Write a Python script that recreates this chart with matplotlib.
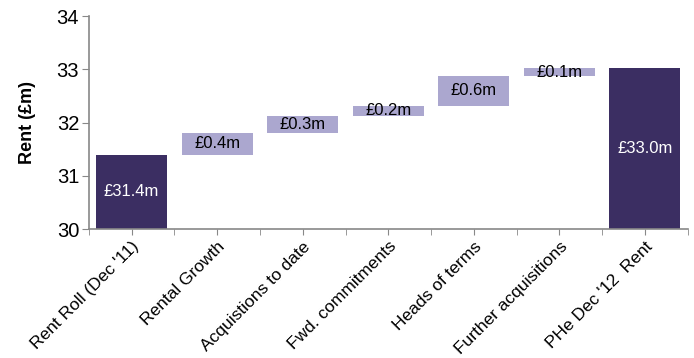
import matplotlib.pyplot as plt
import numpy as np

plt.rcParams['font.family'] = ['Liberation Sans', 'DejaVu Sans']

# data
categories = ["Rent Roll (Dec '11)", "Rental Growth", "Acquistions to date",
              "Fwd. commitments", "Heads of terms", "Further acquisitions",
              "PHe Dec '12  Rent"]
start_rent = 31.4
steps = [0.4, 0.33, 0.18, 0.57, 0.14]
end_rent = 33.03
labels = ["£31.4m", "£0.4m", "£0.3m", "£0.2m", "£0.6m", "£0.1m", "£33.0m"]

dark = '#3b2e62'
light = '#aba7cf'
base = 30

fig = plt.figure(figsize=(6.94, 3.58), dpi=100)
ax = fig.add_axes([0.128, 0.36, 0.863, 0.595])

x = np.arange(len(categories))
w = 0.83

# totals
ax.bar(x[0], start_rent - base, bottom=base, width=w, color=dark)
ax.bar(x[-1], end_rent - base, bottom=base, width=w, color=dark)
ax.text(x[0], (start_rent + base) / 2, labels[0], ha='center', va='center', color='white', fontsize=12)
ax.text(x[-1], (end_rent + base) / 2, labels[-1], ha='center', va='center', color='white', fontsize=12)

# floating steps
bottoms = start_rent + np.concatenate([[0], np.cumsum(steps)[:-1]])
ax.bar(x[1:-1], steps, bottom=bottoms, width=w, color=light)
for xi, b, s, lab in zip(x[1:-1], bottoms, steps, labels[1:-1]):
    ax.text(xi, b + s / 2, lab, ha='center', va='center', color='black', fontsize=12)

ax.set_ylim(30, 34)
ax.set_yticks([30, 31, 32, 33, 34])
ax.set_xlim(-0.5, len(categories) - 0.5)
ax.set_xticks(x)
ax.set_xticklabels(categories, rotation=45, ha='right', rotation_mode='anchor', fontsize=12.5)
ax.set_xticks(np.arange(-0.5, len(categories), 1), minor=True)
ax.tick_params(axis='x', which='both', length=4, color='#888888', pad=3)
ax.tick_params(axis='y', length=5, color='#888888', labelsize=14.5, pad=2)
ax.set_ylabel('Rent (£m)', fontsize=13, fontweight='bold', labelpad=15)

for s in ['top', 'right']:
    ax.spines[s].set_visible(False)
for s in ['left', 'bottom']:
    ax.spines[s].set_color('#888888')
    ax.spines[s].set_linewidth(1.2)

fig.savefig('out.png', dpi=100)
